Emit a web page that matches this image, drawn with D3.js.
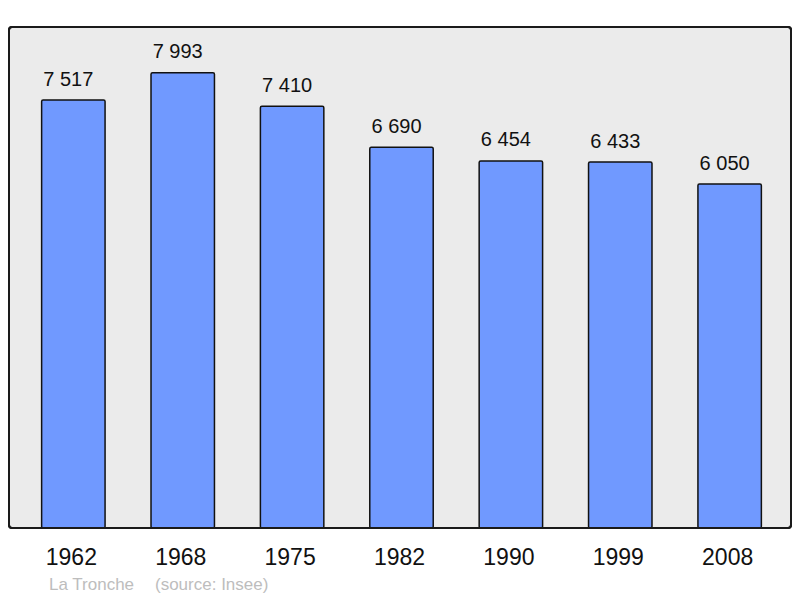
<!DOCTYPE html>
<html><head><meta charset="utf-8">
<script src="https://cdn.jsdelivr.net/npm/d3@7"></script>
<style>html,body{margin:0;padding:0;background:#fff;}</style>
</head><body>
<svg id="c" width="800" height="598"></svg>
<script>
const years = ["1962","1968","1975","1982","1990","1999","2008"];
const population = [7517, 7993, 7410, 6690, 6454, 6433, 6050];
const placeName = "La Tronche";
const sourceText = "(source: Insee)";

const svg = d3.select("#c");
const frame = {x: 9, y: 27, w: 782, h: 501};
svg.append("rect").attr("x", frame.x).attr("y", frame.y).attr("width", frame.w).attr("height", frame.h)
  .attr("rx", 3).attr("fill", "#ebebeb").attr("stroke", "#1a1a1a").attr("stroke-width", 2);

const x = d3.scaleBand().domain(years).range([11, 792]).paddingInner(0.42).paddingOuter(0.28);
const y = d3.scaleLinear().domain([0, d3.max(population) * 1.1]).range([530.4, frame.y]);

const g = svg.append("g");
g.selectAll("rect.bar").data(population).join("rect").attr("class", "bar")
  .attr("x", (d, i) => x(years[i]))
  .attr("y", d => y(d))
  .attr("width", x.bandwidth())
  .attr("height", d => frame.y + frame.h - y(d))
  .attr("rx", 1.5)
  .attr("fill", "#7099ff").attr("stroke", "#111").attr("stroke-width", 1.5);

g.selectAll("text.val").data(population).join("text").attr("class", "val")
  .attr("x", (d, i) => x(years[i]) + x.bandwidth() / 2 - 5)
  .attr("y", d => y(d) - 14.5)
  .attr("text-anchor", "middle")
  .attr("font-family", "Liberation Sans, Arial, sans-serif").attr("font-size", 20).attr("fill", "#111")
  .text(d => d3.format(",")(d).replace(/,/g, " "));

svg.append("rect").attr("x", frame.x).attr("y", frame.y).attr("width", frame.w).attr("height", frame.h)
  .attr("rx", 3).attr("fill", "none").attr("stroke", "#1a1a1a").attr("stroke-width", 2);

const axis = d3.axisBottom(x).tickSize(0).tickPadding(0);
const ag = svg.append("g").attr("transform", `translate(-2, ${frame.y + frame.h + 37})`).call(axis);
ag.select(".domain").remove();
ag.selectAll("text").attr("dy", 0).attr("font-family", "Liberation Sans, Arial, sans-serif").attr("font-size", 23).attr("fill", "#111");

svg.append("text").attr("x", 49).attr("y", 590).attr("font-family", "Liberation Sans, Arial, sans-serif")
  .attr("font-size", 17).attr("fill", "#bdbdbd").text(placeName);
svg.append("text").attr("x", 155).attr("y", 590).attr("font-family", "Liberation Sans, Arial, sans-serif")
  .attr("font-size", 17).attr("fill", "#bdbdbd").text(sourceText);
</script>
</body></html>
